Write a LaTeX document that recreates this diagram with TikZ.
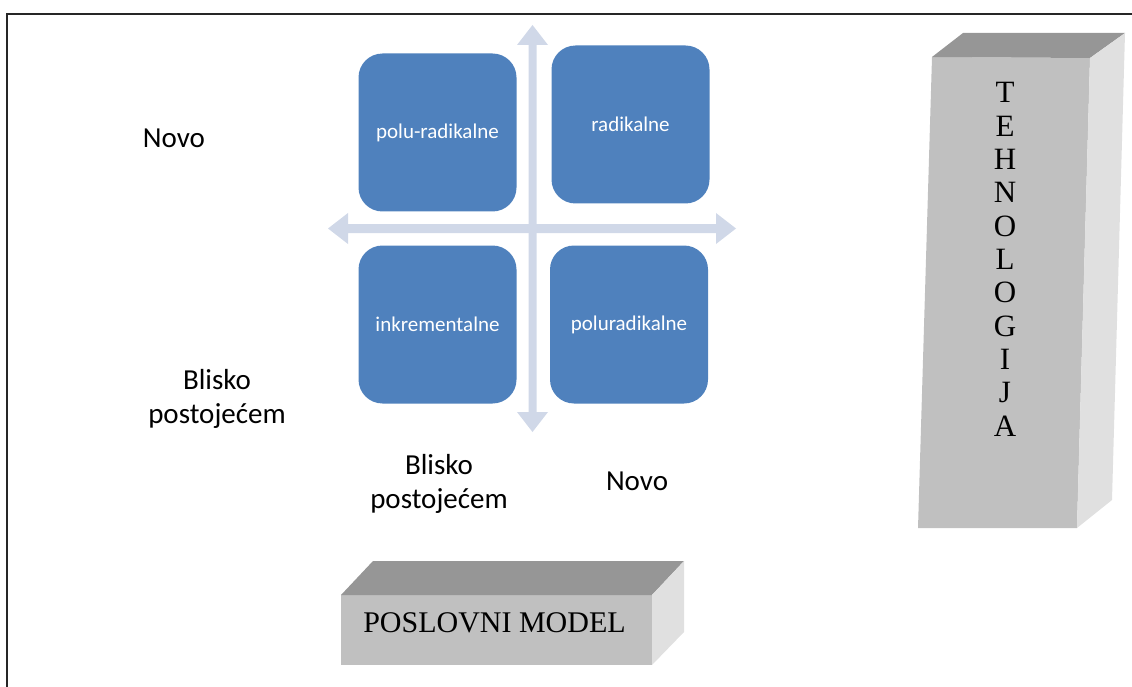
\documentclass[tikz,border=0pt]{standalone}
\usepackage{fontspec}
\setmainfont{Liberation Serif}
\newfontfamily\labfont{Carlito}
\definecolor{qblue}{HTML}{4F81BD}
\definecolor{qarrow}{HTML}{D0D8E8}
\definecolor{bfront}{HTML}{C0C0C0}
\definecolor{btop}{HTML}{969696}
\definecolor{bside}{HTML}{E0E0E0}
\begin{document}
\begin{tikzpicture}[x=1pt,y=-1pt,
  qbox/.style={fill=qblue, rounded corners=24pt, minimum width=158pt, minimum height=158pt,
    inner sep=0pt, text=white, font=\labfont\fontsize{21}{25}\selectfont},
  lab/.style={font=\labfont\fontsize{29}{34}\selectfont, align=center, inner sep=0pt},
  arr/.style={fill=qarrow, draw=none},
  front/.style={fill=bfront, draw=none},
  topf/.style={fill=btop, draw=none},
  sidef/.style={fill=bside, draw=none},
  serif/.style={font=\fontsize{30}{33}\selectfont, inner sep=0pt}
]
\useasboundingbox (0,0) rectangle (1132,687);
% border
\draw[line width=2pt, black!85] (7,690) -- (7,14) -- (1135,14);

% axis arrows
\fill[arr] (328,228.5) -- (348,213) -- (348,224) -- (716,224) -- (716,213) -- (736,228.5)
  -- (716,244) -- (716,233) -- (348,233) -- (348,244) -- cycle;
\fill[arr] (532.5,25) -- (548,45) -- (536.5,45) -- (536.5,412) -- (548,412) -- (532.5,432)
  -- (517,412) -- (528.5,412) -- (528.5,45) -- (517,45) -- cycle;

% quadrant boxes
\node[qbox] (pr) at (437.5,132.5) {polu-radikalne};
\node[qbox] (r) at (630.5,124.5) {radikalne};
\node[qbox] (i) at (437.5,324.5) {inkrementalne};
\node[qbox] (por) at (629,324.5) {poluradikalne};

% labels
\node[lab, anchor=base] (novoL) at (174,148) {Novo};
\node[lab] (bliskoL) at (217,399) {Blisko\\postoje\'cem};
\node[lab] (bliskoB) at (439,484) {Blisko\\postoje\'cem};
\node[lab, anchor=base] (novoB) at (637,490) {Novo};

% TEHNOLOGIJA 3D box
\coordinate (t1) at (932,57);
\coordinate (t2) at (1090,58);
\coordinate (t3) at (1077,528);
\coordinate (t4) at (918,528);
\coordinate (t5) at (963,33);
\coordinate (t6) at (1125,33);
\coordinate (t7) at (1112,500);
\fill[front] (t1) -- (t2) -- (t3) -- (t4) -- cycle;
\fill[topf] (t5) -- (t6) -- (t2) -- (t1) -- cycle;
\fill[sidef] (t2) -- (t6) -- (t7) -- (t3) -- cycle;
\foreach \l [count=\k from 0] in {T,E,H,N,O,L,O,G,I,J,A} {
  \node[font=\fontsize{31}{33}\selectfont, inner sep=0pt, anchor=base] (tl\k) at (1005,103+33.3*\k) {\l};
}

% POSLOVNI MODEL 3D box
\coordinate (p1) at (341,595);
\coordinate (p2) at (652,595);
\coordinate (p3) at (652,665);
\coordinate (p4) at (341,665);
\coordinate (p5) at (373,561);
\coordinate (p6) at (684,561);
\coordinate (p7) at (684,632);
\fill[front] (p1) -- (p2) -- (p3) -- (p4) -- cycle;
\fill[topf] (p5) -- (p6) -- (p2) -- (p1) -- cycle;
\fill[sidef] (p2) -- (p6) -- (p7) -- (p3) -- cycle;
\node[serif, anchor=base] (pm) at (494.5,632) {POSLOVNI MODEL};
\end{tikzpicture}
\end{document}
